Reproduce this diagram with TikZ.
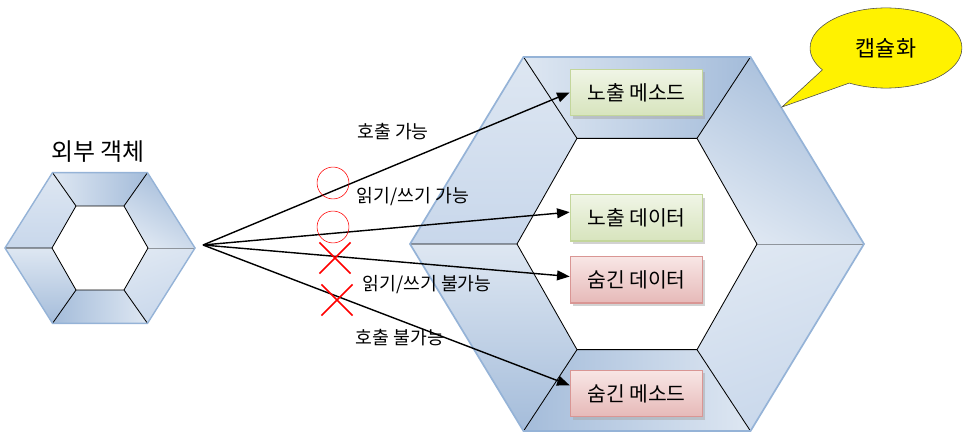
\documentclass[tikz,border=0pt]{standalone}
\usepackage{fontspec}
\setmainfont{Noto Sans CJK KR}
\usepackage{tikz}
\usetikzlibrary{arrows.meta}
\usetikzlibrary{shapes.misc,shapes.callouts}
\usetikzlibrary{shadows}

\definecolor{hexlight}{RGB}{222,231,242}
\definecolor{hexmid}{RGB}{200,215,235}
\definecolor{hexdark}{RGB}{164,188,218}
\definecolor{hexedge}{RGB}{149,179,215}
\definecolor{grtop}{RGB}{240,245,230}
\definecolor{grbot}{RGB}{215,228,189}
\definecolor{grline}{RGB}{195,214,155}
\definecolor{rdtop}{RGB}{248,230,229}
\definecolor{rdbot}{RGB}{230,185,184}
\definecolor{rdline}{RGB}{217,150,148}

\tikzset{
	membox/.style={rectangle,minimum width=94pt,minimum height=33pt,inner sep=0pt,
		line width=1pt,font=\fontsize{14.5}{16}\selectfont,
		drop shadow={shadow xshift=2pt,shadow yshift=-2pt,fill=black!35,opacity=.5}},
	pubbox/.style={membox,draw=grline,top color=grtop,bottom color=grbot},
	hidbox/.style={membox,draw=rdline,top color=rdtop,bottom color=rdbot},
	edgelabel/.style={font=\fontsize{13}{15}\selectfont},
	okmark/.style={circle,draw=red,minimum size=22.7pt,inner sep=0pt},
	nomark/.style={cross out,draw=red,line width=1.2pt,minimum size=21pt,inner sep=0pt},
	call/.style={-{Triangle[length=9pt,width=7pt]},line width=1pt}
}

\begin{document}
\begin{tikzpicture}[x=0.025cm,y=-0.025cm]
	\useasboundingbox (0,0) rectangle (965,438);
	
	% outer object
	
	\begin{scope}[shift={(100,248)}]
		\foreach \a/\tc/\bc/\ang in {0/hexlight/hexmid/20,60/hexdark/hexlight/90,120/hexlight/hexdark/0,180/hexlight/hexmid/0,240/hexlight/hexdark/90,300/hexdark/hexlight/-30} {
			\shade[top color=\tc,bottom color=\bc,shading angle=\ang]
				(\a:95 and 87) -- (\a+60:95 and 87) -- (\a+60:48 and 48.5) -- (\a:48 and 48.5) -- cycle;
			\draw[line width=0.6pt] (\a:95 and 87) -- (\a:48 and 48.5) -- (\a+60:48 and 48.5);
		}
		\draw[hexedge,line width=1pt] (0:95 and 87) \foreach \a in {60,120,...,300} { -- (\a:95 and 87) } -- cycle;
		\coordinate (src) at (103,-3);
	\end{scope}
	\node[font=\fontsize{17}{19}\selectfont] (outer) at (98,152) {외부 객체};
	
	% class
	
	\begin{scope}[shift={(637,244)}]
		\foreach \a/\tc/\bc/\ang in {0/hexlight/hexmid/20,60/hexdark/hexlight/90,120/hexlight/hexdark/0,180/hexlight/hexmid/0,240/hexlight/hexdark/90,300/hexdark/hexlight/-30} {
			\shade[top color=\tc,bottom color=\bc,shading angle=\ang]
				(\a:227 and 216) -- (\a+60:227 and 216) -- (\a+60:120 and 122) -- (\a:120 and 122) -- cycle;
			\draw[line width=0.6pt] (\a:227 and 216) -- (\a:120 and 122) -- (\a+60:120 and 122);
		}
		\draw[hexedge,line width=1.2pt] (0:227 and 216) \foreach \a in {60,120,...,300} { -- (\a:227 and 216) } -- cycle;
	\end{scope}
	
	\node[pubbox] (m1) at (636.5,92.5) {노출 메소드};
	\node[pubbox] (d1) at (636.5,218) {노출 데이터};
	\node[hidbox] (d2) at (636.5,280) {숨긴 데이터};
	\node[hidbox] (m2) at (636.5,393.5) {숨긴 메소드};
	
	% access
	
	\draw[call] (src) -- (m1.west);
	\draw[call] (src) -- (d1.175);
	\draw[call] (src) -- (d2.177);
	\draw[call] (src) -- (m2.173);
	
	\node[edgelabel] (l1) at (393,132) {호출 가능};
	\node[edgelabel] (l2) at (413,197) {읽기/쓰기 가능};
	\node[edgelabel] (l3) at (427,285) {읽기/쓰기 불가능};
	\node[edgelabel] (l4) at (400,338) {호출 불가능};
	
	\node[okmark] (o1) at (333,183) {};
	\node[okmark] (o2) at (333,227) {};
	\node[nomark] (x1) at (335,258) {};
	\node[nomark] (x2) at (337,300) {};
	
	% encapsulation
	
	\coordinate (tip) at (782,107);
	\node[ellipse callout,callout absolute pointer={(tip)},callout pointer arc=28,
		fill=yellow,draw=black!70,minimum width=108pt,minimum height=57pt,
		font=\fontsize{15.5}{17}\selectfont] (enc) at (886,48) {캡슐화};
\end{tikzpicture}
\end{document}
